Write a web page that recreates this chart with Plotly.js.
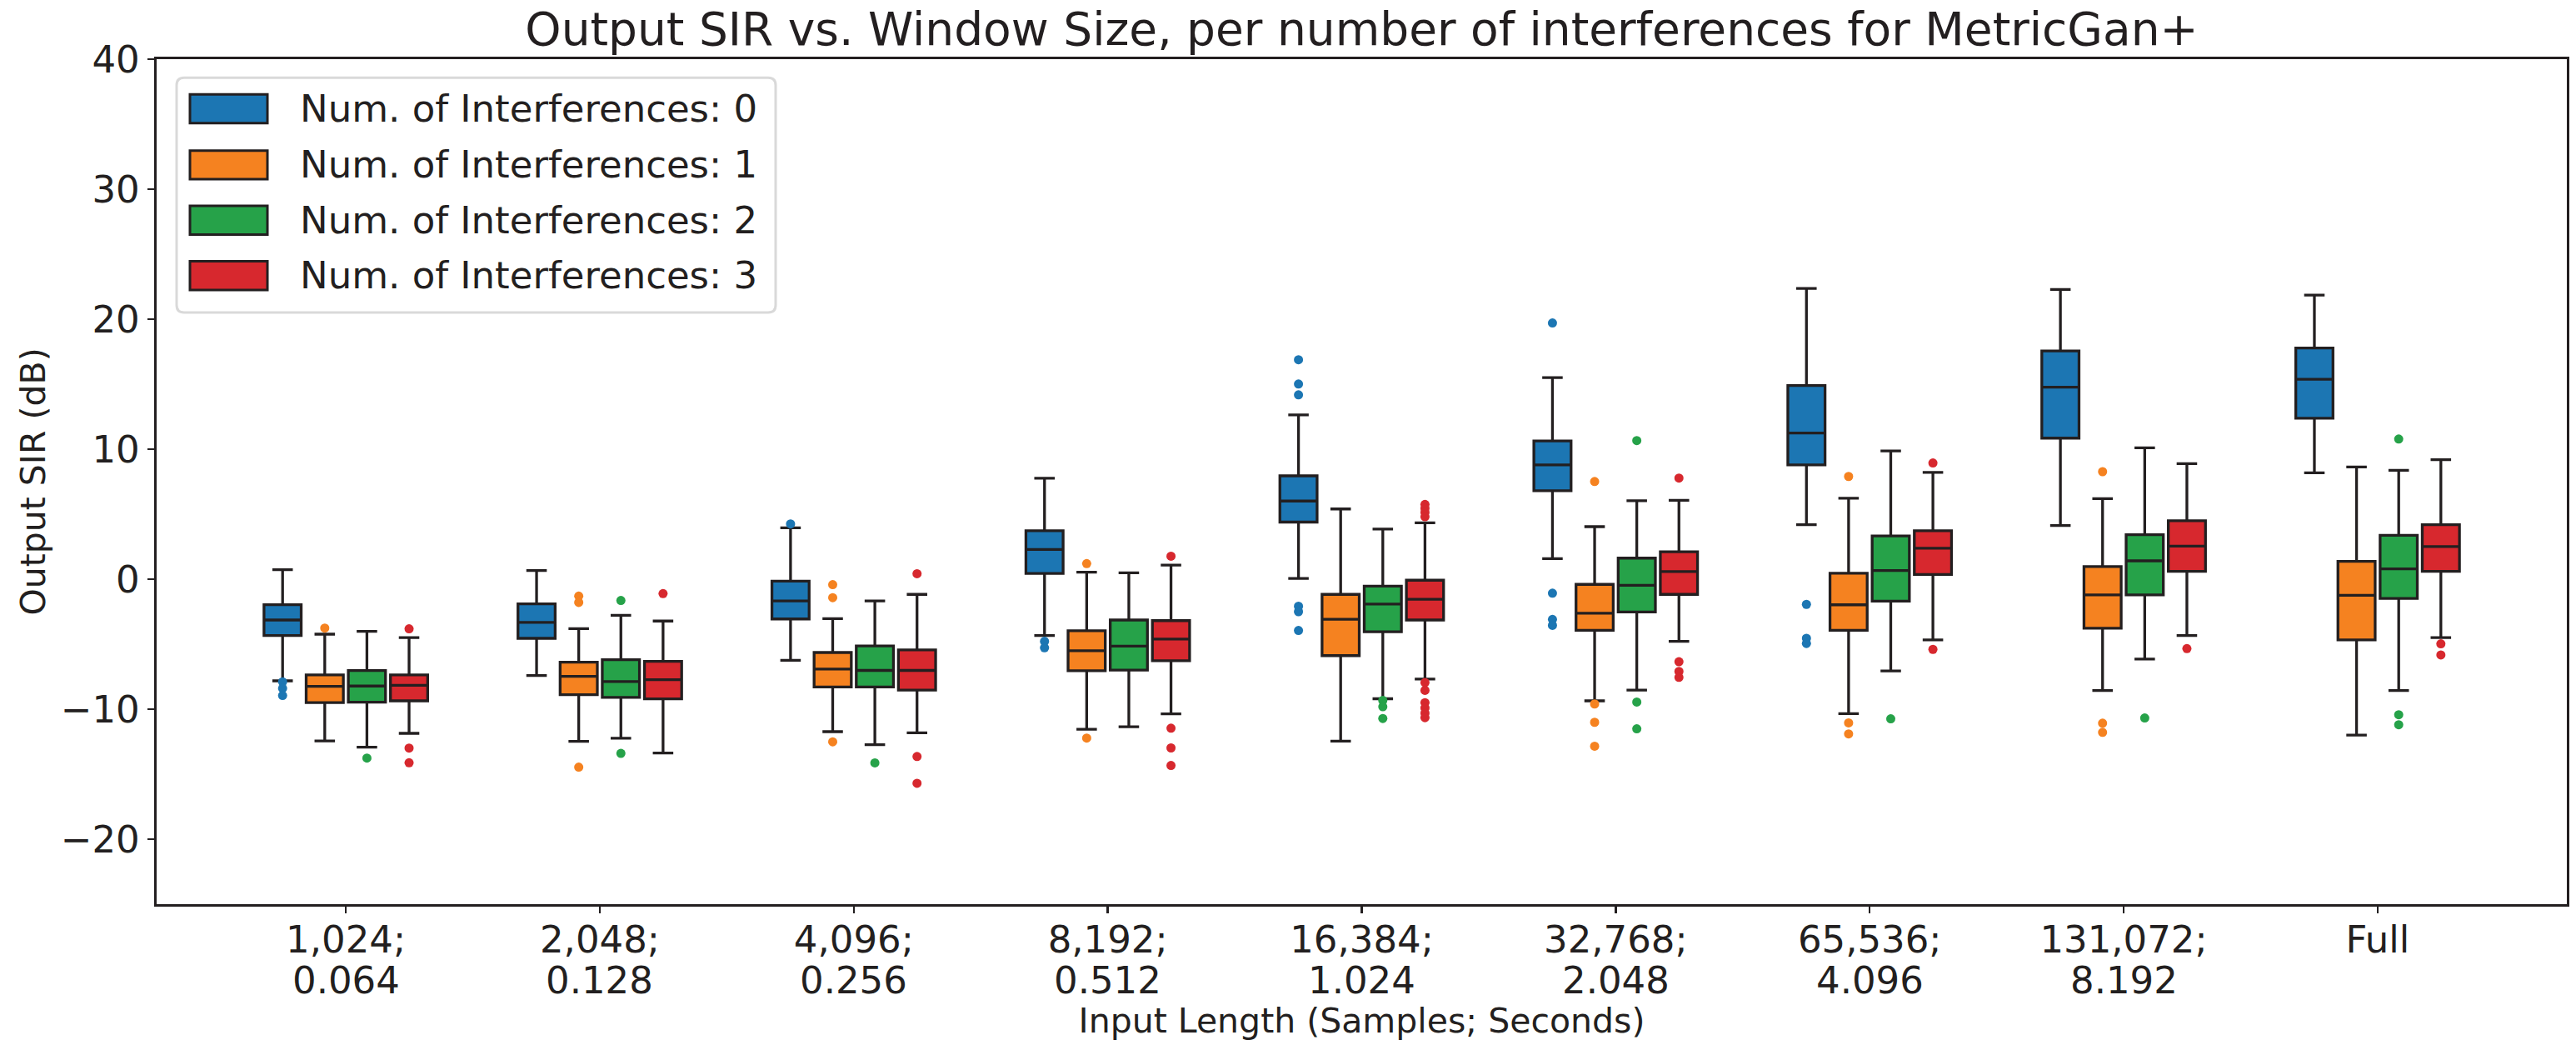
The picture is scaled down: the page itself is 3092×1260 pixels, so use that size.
<!DOCTYPE html>
<html>
<head>
<meta charset="utf-8">
<script src="https://cdn.plot.ly/plotly-3.0.1.min.js"></script>
<style>html,body{margin:0;padding:0;background:#fff;}#chart{width:3092px;height:1260px;}</style>
</head>
<body>
<div id="chart"></div>
<script>
// ---------- DATA ----------
const sampleLabels = ['1,024;', '2,048;', '4,096;', '8,192;', '16,384;', '32,768;', '65,536;', '131,072;', 'Full'];
const secondLabels = ['0.064', '0.128', '0.256', '0.512', '1.024', '2.048', '4.096', '8.192', ''];
const seriesNames = ['Num. of Interferences: 0', 'Num. of Interferences: 1',
  'Num. of Interferences: 2', 'Num. of Interferences: 3'];

// series 0 (blue)
const lower0  = [-7.82, -7.41, -6.24, -4.34, 0.05, 1.58, 4.19, 4.13, 8.18];
const q1_0    = [-4.33, -4.55, -3.06, 0.44, 4.39, 6.80, 8.79, 10.85, 12.38];
const median0 = [-3.14, -3.33, -1.67, 2.28, 6.01, 8.79, 11.24, 14.77, 15.38];
const q3_0    = [-1.96, -1.90, -0.15, 3.73, 7.95, 10.63, 14.89, 17.56, 17.78];
const upper0  = [0.73, 0.67, 3.95, 7.76, 12.63, 15.51, 22.37, 22.28, 21.85];
const fliers0 = [[-7.9, -8.4, -8.95], [], [4.25], [-4.78, -5.28],
  [16.88, 15.01, 14.18, -2.08, -2.5, -3.95], [19.71, -1.08, -3.1, -3.55],
  [-1.94, -4.55, -4.95], [], []];

// series 1 (orange)
const lower1  = [-12.44, -12.47, -11.73, -11.55, -12.46, -9.36, -10.34, -8.56, -11.99];
const q1_1    = [-9.49, -8.88, -8.29, -7.04, -5.88, -3.94, -3.94, -3.78, -4.67];
const median1 = [-8.24, -7.47, -6.92, -5.51, -3.09, -2.62, -1.97, -1.21, -1.24];
const q3_1    = [-7.37, -6.38, -5.64, -3.97, -1.17, -0.40, 0.46, 0.97, 1.37];
const upper1  = [-4.23, -3.80, -3.04, 0.54, 5.40, 4.04, 6.22, 6.19, 8.63];
const fliers1 = [[-3.76], [-1.3, -1.79, -14.46], [-0.42, -1.42, -12.51], [1.2, -12.22], [],
  [7.51, -9.6, -11.01, -12.85], [7.9, -11.05, -11.9], [8.27, -11.08, -11.78], []];

// series 2 (green)
const lower2  = [-12.92, -12.24, -12.73, -11.36, -9.20, -8.53, -7.06, -6.14, -8.56];
const q1_2    = [-9.46, -9.10, -8.29, -6.99, -4.05, -2.52, -1.69, -1.21, -1.48];
const median2 = [-8.22, -7.88, -7.02, -5.15, -1.91, -0.47, 0.67, 1.41, 0.79];
const q3_2    = [-7.03, -6.19, -5.13, -3.14, -0.54, 1.62, 3.33, 3.42, 3.37];
const upper2  = [-4.01, -2.78, -1.67, 0.49, 3.85, 6.03, 9.87, 10.11, 8.37];
const fliers2 = [[-13.76], [-1.64, -13.4], [-14.13], [], [-9.32, -9.81, -10.72],
  [10.66, -9.45, -11.51], [-10.74], [-10.68], [10.78, -10.43, -11.2]];

// series 3 (red)
const lower3  = [-11.86, -13.37, -11.82, -10.36, -7.68, -4.79, -4.67, -4.33, -4.49];
const q1_3    = [-9.36, -9.21, -8.54, -6.28, -3.14, -1.17, 0.36, 0.60, 0.60];
const median3 = [-8.16, -7.73, -7.02, -4.61, -1.55, 0.58, 2.38, 2.54, 2.51];
const q3_3    = [-7.37, -6.32, -5.44, -3.19, -0.08, 2.11, 3.73, 4.50, 4.19];
const upper3  = [-4.49, -3.22, -1.17, 1.08, 4.34, 6.06, 8.21, 8.88, 9.19];
const fliers3 = [[-3.82, -12.99, -14.12], [-1.11], [0.42, -13.64, -15.70],
  [1.77, -11.46, -12.98, -14.33],
  [5.75, 5.45, 5.15, 4.8, -7.95, -8.55, -9.5, -9.9, -10.3, -10.65],
  [7.78, -6.35, -7.1, -7.55], [8.94, -5.40], [-5.34], [-4.97, -5.83]];

// ---------- STYLE ----------
const colors = ['#1c76b3', '#f58220', '#26a249', '#d7282e'];
const ink = '#231f20';
const FONT = 'DejaVu Sans';
const SLOT = 0.166;      // spacing between grouped boxes (data units)
const BOXW = 0.1465;     // box width (data units)

const stats = [
  {lo: lower0, q1: q1_0, med: median0, q3: q3_0, hi: upper0, fl: fliers0},
  {lo: lower1, q1: q1_1, med: median1, q3: q3_1, hi: upper1, fl: fliers1},
  {lo: lower2, q1: q1_2, med: median2, q3: q3_2, hi: upper2, fl: fliers2},
  {lo: lower3, q1: q1_3, med: median3, q3: q3_3, hi: upper3, fl: fliers3}
];

const traces = [];
stats.forEach((s, k) => {
  const xs = sampleLabels.map((_, i) => i + (k - 1.5) * SLOT);
  traces.push({
    type: 'box', name: seriesNames[k], x: xs,
    q1: s.q1, median: s.med, q3: s.q3, lowerfence: s.lo, upperfence: s.hi,
    boxpoints: false, width: BOXW, whiskerwidth: 0.55,
    fillcolor: colors[k], line: {color: ink, width: 3.3},
    showlegend: false, hoverinfo: 'skip'
  });
  const fx = [], fy = [];
  s.fl.forEach((arr, i) => arr.forEach(v => { fx.push(xs[i]); fy.push(v); }));
  traces.push({
    type: 'scatter', mode: 'markers', x: fx, y: fy,
    marker: {color: colors[k], size: 11, line: {width: 0}},
    showlegend: false, hoverinfo: 'skip'
  });
});

// ---------- LAYOUT ----------
const FW = 3092, FH = 1260;
const M = {l: 188, r: 11, t: 71, b: 175};
const PW = FW - M.l - M.r, PH = FH - M.t - M.b;
const px = X => (X - M.l) / PW;
const py = Y => (M.t + PH - Y) / PH;

const shapes = [];
const annotations = [];

// second line of the x tick labels (seconds)
secondLabels.forEach((t, i) => {
  if (!t) return;
  annotations.push({
    xref: 'x', yref: 'paper', x: i, y: py(1176),
    xanchor: 'center', yanchor: 'middle', showarrow: false,
    text: t, font: {family: FONT, size: 45, color: ink}
  });
});

// manual matplotlib-like legend
const lg = {x0: 212, x1: 931, y0: 93.3, y1: 375, r: 9};
const rx = lg.r / PW, ry = lg.r / PH;
const X0 = px(lg.x0), X1 = px(lg.x1), Yt = py(lg.y0), Yb = py(lg.y1);
shapes.push({
  type: 'path', xref: 'paper', yref: 'paper', layer: 'above',
  path: `M${X0 + rx},${Yt} L${X1 - rx},${Yt} Q${X1},${Yt} ${X1},${Yt - ry} L${X1},${Yb + ry} Q${X1},${Yb} ${X1 - rx},${Yb} L${X0 + rx},${Yb} Q${X0},${Yb} ${X0},${Yb + ry} L${X0},${Yt - ry} Q${X0},${Yt} ${X0 + rx},${Yt} Z`,
  fillcolor: 'rgba(255,255,255,0.85)', line: {color: '#d9d9d9', width: 3}
});
const handleTops = [113.3, 180.7, 247.0, 313.6];
seriesNames.forEach((nm, k) => {
  const top = handleTops[k], bot = top + 34.4;
  shapes.push({
    type: 'rect', xref: 'paper', yref: 'paper', layer: 'above',
    x0: px(228), x1: px(321), y0: py(bot), y1: py(top),
    fillcolor: colors[k], line: {color: ink, width: 3}
  });
  annotations.push({
    xref: 'paper', yref: 'paper', x: px(358), y: py((top + bot) / 2),
    xanchor: 'left', yanchor: 'middle', showarrow: false,
    text: nm, font: {family: FONT, size: 45, color: ink}
  });
});

const layout = {
  width: FW, height: FH,
  margin: M,
  paper_bgcolor: '#ffffff', plot_bgcolor: '#ffffff',
  font: {family: FONT, color: ink},
  showlegend: false,
  boxmode: 'overlay',
  title: {
    text: 'Output SIR vs. Window Size, per number of interferences for MetricGan+',
    font: {family: FONT, size: 55, color: ink},
    x: 0.5, xref: 'paper', xanchor: 'center',
    y: 1 - 35 / FH, yref: 'container', yanchor: 'middle'
  },
  xaxis: {
    type: 'linear', range: [-0.745, 8.745],
    tickmode: 'array', tickvals: sampleLabels.map((_, i) => i), ticktext: sampleLabels,
    tickfont: {family: FONT, size: 45, color: ink},
    ticks: 'outside', ticklen: 8, tickwidth: 2.5, tickcolor: ink,
    ticklabelstandoff: -7,
    showline: true, linecolor: ink, linewidth: 3.3, mirror: true,
    showgrid: false, zeroline: false,
    title: {text: 'Input Length (Samples; Seconds)', font: {family: FONT, size: 41, color: ink}, standoff: 58}
  },
  yaxis: {
    range: [-25, 40], tick0: 0, dtick: 10,
    tickfont: {family: FONT, size: 45, color: ink},
    ticks: 'outside', ticklen: 8, tickwidth: 2.5, tickcolor: ink,
    showline: true, linecolor: ink, linewidth: 3.3, mirror: true,
    showgrid: false, zeroline: false,
    title: {text: 'Output SIR (dB)', font: {family: FONT, size: 41, color: ink}, standoff: 6}
  },
  shapes: shapes,
  annotations: annotations
};

Plotly.newPlot('chart', traces, layout, {staticPlot: true, displayModeBar: false});
</script>
</body>
</html>
